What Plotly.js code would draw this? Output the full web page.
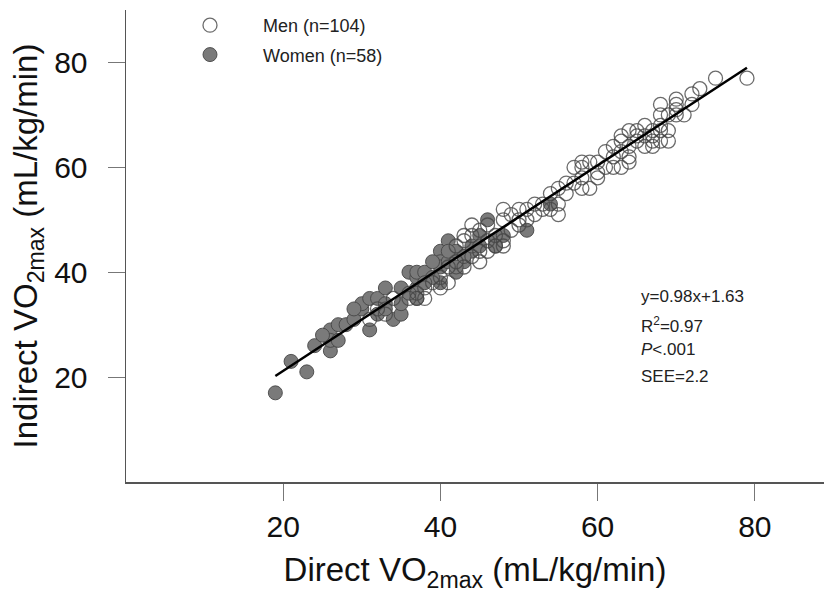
<!DOCTYPE html>
<html>
<head>
<meta charset="utf-8">
<script src="https://cdn.plot.ly/plotly-3.0.1.min.js"></script>
<style>
html,body{margin:0;padding:0;background:#fff;}
#chart{width:824px;height:597px;}
</style>
</head>
<body>
<div id="chart"></div>
<script>
// Women (filled circles): direct vs indirect VO2max
var womenX = [19,21,23,24,26,26,26,27,27,28,29,30,30,31,31,32,33,33,34,35,35,35,36,37,37,37,37,38,40,40,40,41,41,42,42,43,44,45,46,47,48,51,54,47,42,40,39,43,44,32,29,36,38,39,41,33,25,45];
var womenY = [17,23,21,26,25,29,27,27,30,30,31,33,34,35,29,35,37,34,31,32,34,37,40,37,35,39,40,40,44,42,41,46,42,44,40,42,44,47,50,46,47,48,53,45,41,38,39,43,45,32,33,36,38,42,44,33,28,45];

// Men (open circles)
var menX = [79,75,73,72,70,70,68,70,69,68,66,65,65,67,68,67,68,69,67,64,63,63,61,64,63,62,61,60,59,58,57,58,59,58,56,55,54,53,52,55,55,51,54,50,48,49,48,50,46,45,44,43,44,45,43,42,45,47,48,48,46,43,41,40,40,38,38,37,
            31,32,33,34,36,37,39,41,42,44,46,47,49,50,51,52,53,56,57,58,60,62,63,64,65,66,66,67,68,69,70,71,72,60,62,64];
var menY = [77,77,75,74,73,72,72,71,70,70,68,67,66,67,67,65,65,65,64,61,66,65,63,62,60,60,60,59,61,61,60,60,56,56,57,56,55,53,53,53,51,52,52,52,52,51,50,49,49,48,49,47,47,44,46,45,42,45,45,46,46,41,41,39,37,37,35,35,
            31,33,32,35,35,36,38,38,42,43,44,47,48,50,50,51,52,55,57,58,61,62,63,64,65,66,64,66,68,67,70,70,72,58,64,67];

// Regression line end points
var fitX = [19, 79];
var fitY = [20.2, 79.0];

// Statistics text
var statLines = ['y=0.98x+1.63', 'R<sup>2</sup>=0.97', '<i>P</i>&lt;.001', 'SEE=2.2'];
var statY = [35.3, 29.9, 25.3, 20.2];

var traces = [
  {
    x: womenX, y: womenY, type: 'scatter', mode: 'markers', name: 'Women (n=58)',
    legendrank: 2, legendgroup: 'w',
    marker: {symbol: 'circle', size: 14, color: 'rgb(122,122,122)', line: {color: 'rgba(70,70,70,0.9)', width: 1}}
  },
  {
    x: menX, y: menY, type: 'scatter', mode: 'markers', name: 'Men (n=104)',
    legendrank: 1, legendgroup: 'm',
    marker: {symbol: 'circle-open', size: 14, color: 'rgba(70,70,70,0.8)', line: {width: 1.3}}
  },
  {
    x: fitX, y: fitY, type: 'scatter', mode: 'lines', showlegend: false,
    line: {color: '#000', width: 2.5}
  }
];

var annotations = statLines.map(function(t, i){
  return {x: 65.3, y: statY[i], xref: 'x', yref: 'y', text: t, showarrow: false,
          xanchor: 'left', yanchor: 'middle', font: {family: 'Liberation Sans, Arial, sans-serif', size: 17, color: '#222'}};
});

var layout = {
  width: 824, height: 597,
  margin: {l: 126, r: 0, t: 10, b: 115},
  paper_bgcolor: '#fff', plot_bgcolor: '#fff',
  font: {family: 'Liberation Sans, Arial, sans-serif', color: '#111'},
  showlegend: true,
  legend: {x: 0.0444, y: 1.0064, xanchor: 'left', yanchor: 'top', bgcolor: 'rgba(0,0,0,0)',
           font: {size: 18, color: '#222'}, itemwidth: 96, tracegroupgap: 3, traceorder: 'grouped'},
  xaxis: {
    range: [0, 88.8], showgrid: false, zeroline: false,
    showline: true, linecolor: '#555', linewidth: 1.5,
    ticks: 'outside', ticklen: 17, tickwidth: 1, tickcolor: '#777',
    tickvals: [20, 40, 60, 80], ticktext: ['20', '40', '60', '80'],
    tickfont: {size: 30, color: '#111'},
    title: {text: 'Direct VO<sub>2max</sub> (mL/kg/min)', font: {size: 33, color: '#111'}, standoff: 16}
  },
  yaxis: {
    range: [0, 90], showgrid: false, zeroline: false,
    showline: true, linecolor: '#555', linewidth: 1.5,
    ticks: 'outside', ticklen: 17, tickwidth: 1, tickcolor: '#777',
    tickvals: [20, 40, 60, 80], ticktext: ['20', '40', '60', '80'],
    tickfont: {size: 30, color: '#111'}, ticklabelstandoff: 14,
    title: {text: 'Indirect VO<sub>2max</sub> (mL/kg/min)', font: {size: 33, color: '#111'}, standoff: 6}
  },
  annotations: annotations
};

Plotly.newPlot('chart', traces, layout, {staticPlot: true, displayModeBar: false});
</script>
</body>
</html>
